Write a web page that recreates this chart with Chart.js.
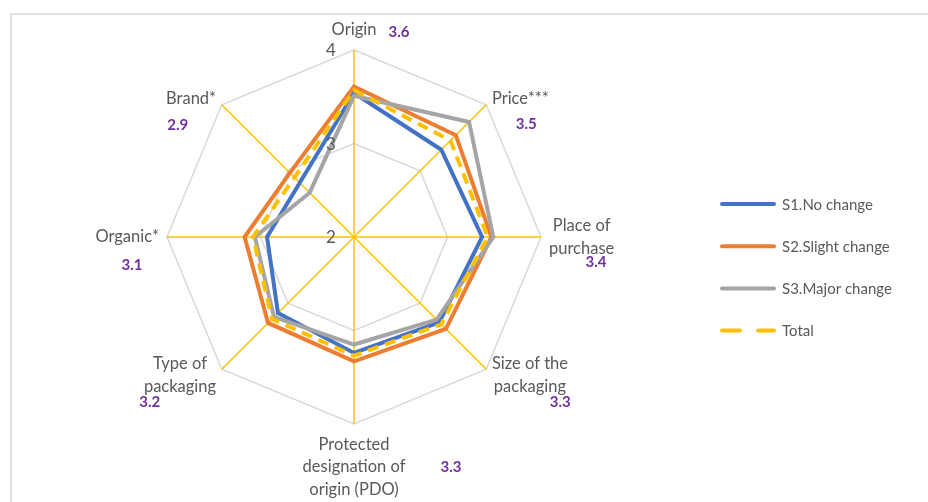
<!DOCTYPE html>
<html><head><meta charset="utf-8">
<script src="https://cdn.jsdelivr.net/npm/chart.js@4.4.1/dist/chart.umd.min.js"></script>
<style>
html,body{margin:0;padding:0;background:#fff;}
#wrap{position:relative;width:928px;height:502px;overflow:hidden;}
#frame{position:absolute;left:10px;top:13px;width:940px;height:520px;border-left:2px solid #e0e0e0;border-top:2px solid #e0e0e0;box-sizing:border-box;}
canvas{position:absolute;left:0;top:0;}
</style></head><body>
<div id="wrap"><div id="frame"></div><canvas id="c" width="928" height="502"></canvas></div>
<script>
const categories = [['Origin'], ['Price***'], ['Place of', 'purchase'], ['Size of the', 'packaging'], ['Protected', 'designation of', 'origin (PDO)'], ['Type of', 'packaging'], ['Organic*'], ['Brand*']];
const s1NoChange     = [3.54, 3.32, 3.37, 3.29, 3.24, 3.15, 2.93, 2.82];
const s2SlightChange = [3.61, 3.54, 3.47, 3.39, 3.33, 3.30, 3.17, 2.97];
const s3MajorChange  = [3.51, 3.74, 3.49, 3.25, 3.15, 3.21, 3.06, 2.67];
const totalValues    = [3.57, 3.46, 3.43, 3.32, 3.27, 3.24, 3.08, 2.90];
const totalLabels    = ['3.6', '3.5', '3.4', '3.3', '3.3', '3.2', '3.1', '2.9'];
const tickValues = [2, 3, 4];
const tickLabels = ['2', '3', '4'];
const seriesNames = ['S1.No change', 'S2.Slight change', 'S3.Major change', 'Total'];

const FONT = 'Lato, "Open Sans", sans-serif';
const TEXT = '#595959';
const PURPLE = '#7030A0';
// placement of the purple total labels relative to each axis tip
const totalOffsets = [[45, -18], [40, 19], [55, 25], [74, 33], [97, 43], [-72, 33], [-35, 28], [-44, 20]];

const annotate = {
  id: 'annotate',
  afterDraw(chart) {
    const s = chart.scales.r;
    const ctx = chart.ctx;
    ctx.save();
    // tick labels
    ctx.font = '17px ' + FONT;
    ctx.fillStyle = TEXT;
    ctx.textAlign = 'center';
    ctx.textBaseline = 'middle';
    tickValues.forEach((v, i) => {
      const y = s.yCenter - s.getDistanceFromCenterForValue(v);
      ctx.fillText(tickLabels[i], s.xCenter - 23, y + 1);
    });
    // axis labels
    const lh = 22.7;
    ctx.font = '16.5px ' + FONT;
    categories.forEach((lines, i) => {
      const p = s.getPointPosition(i, s.drawingArea + 8);
      const dx = p.x - s.xCenter, dy = p.y - s.yCenter;
      const w = Math.max(...lines.map(l => ctx.measureText(l).width));
      let cx, top;
      if (Math.abs(dx) < 1) {
        cx = p.x;
        top = dy < 0 ? p.y - 12 - lh / 2 - (lines.length - 1) * lh : p.y + 1;
      } else {
        cx = dx > 0 ? p.x + w / 2 : p.x - w / 2;
        top = p.y - lines.length * lh / 2;
      }
      lines.forEach((l, k) => ctx.fillText(l, cx, top + lh * k + lh / 2));
    });
    // totals
    ctx.font = 'bold 15px ' + FONT;
    ctx.fillStyle = PURPLE;
    totalLabels.forEach((t, i) => {
      const p = s.getPointPosition(i, s.drawingArea);
      ctx.fillText(t, p.x + totalOffsets[i][0], p.y + totalOffsets[i][1]);
    });
    // legend
    ctx.font = '15px ' + FONT;
    ctx.textAlign = 'left';
    chart.data.datasets.forEach((ds, i) => {
      const y = 204 + i * 42.2;
      ctx.beginPath();
      ctx.strokeStyle = ds.borderColor;
      ctx.lineWidth = 4;
      ctx.lineCap = 'round';
      ctx.setLineDash(ds.borderDash && ds.borderDash.length ? [18, 18] : []);
      ctx.moveTo(722, y);
      ctx.lineTo(774, y);
      ctx.stroke();
      ctx.setLineDash([]);
      ctx.fillStyle = TEXT;
      ctx.fillText(ds.label, 782, y + 1);
    });
    ctx.restore();
  }
};

const series = [s1NoChange, s2SlightChange, s3MajorChange, totalValues];
const colors = ['#4472C4', '#ED7D31', '#A5A5A5', '#FFC000'];
const orders = [4, 3, 2, 1];

new Chart(document.getElementById('c'), {
  type: 'radar',
  data: {
    labels: categories,
    datasets: series.map((d, i) => ({
      label: seriesNames[i],
      data: d,
      borderColor: colors[i],
      backgroundColor: 'transparent',
      borderWidth: 4,
      borderDash: i === 3 ? [11, 7] : [],
      fill: false,
      pointRadius: 0,
      pointHoverRadius: 0,
      tension: 0,
      order: orders[i]
    }))
  },
  options: {
    responsive: false,
    animation: false,
    layout: { padding: { left: 167, right: 387, top: 50, bottom: 78 } },
    plugins: { legend: { display: false }, tooltip: { enabled: false } },
    scales: {
      r: {
        min: 2, max: 4,
        ticks: { display: false, stepSize: 1 },
        pointLabels: { display: false },
        grid: { color: '#D9D9D9', lineWidth: 1.5 },
        angleLines: { color: '#FFC000', lineWidth: 1.5 }
      }
    }
  },
  plugins: [annotate]
});
</script>
</body></html>
